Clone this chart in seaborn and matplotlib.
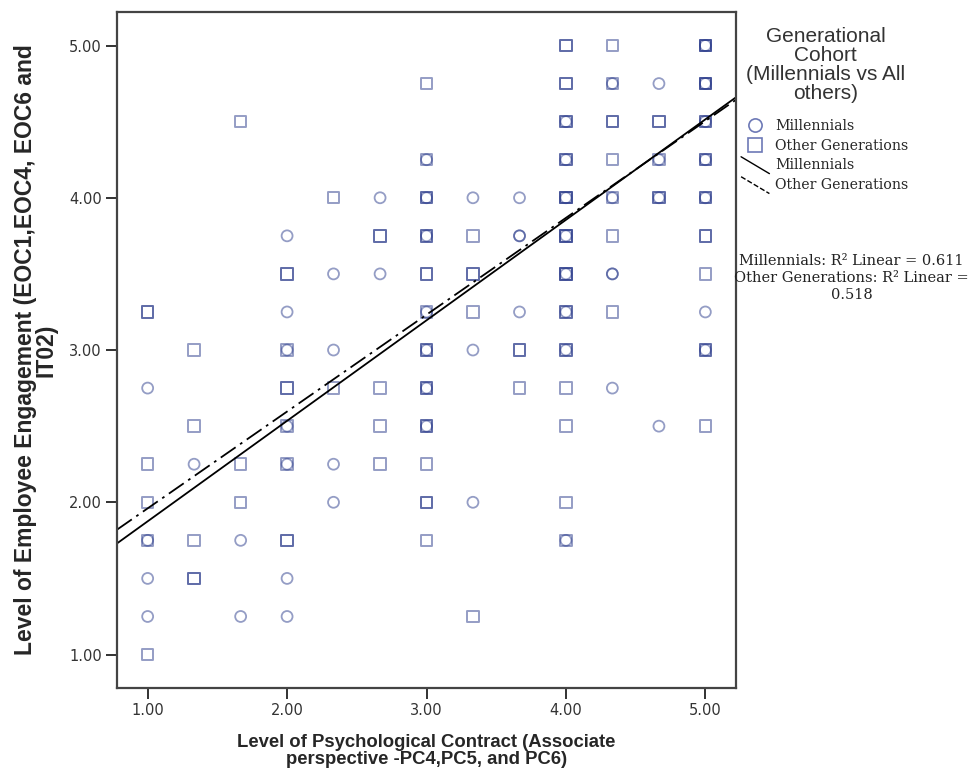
import numpy as np
import pandas as pd
import matplotlib
matplotlib.use("Agg")
import matplotlib.pyplot as plt
from matplotlib.lines import Line2D
from matplotlib.legend_handler import HandlerLine2D
import seaborn as sns

# grid cells (x, y) and how many cases of each cohort sit there
cell_x = [1.0] * 8 + [1.333] * 5 + [1.667] * 5 + [2.0] * 10 + [2.333] * 6 + [2.667] * 6 \
    + [3.0] * 12 + [3.333] * 7 + [3.667] * 5 + [4.0] * 13 + [4.333] * 9 + [4.667] * 5 + [5.0] * 10
cell_y = [3.25, 2.75, 2.25, 2.0, 1.75, 1.5, 1.25, 1.0,
          3.0, 2.5, 2.25, 1.75, 1.5,
          4.5, 2.25, 2.0, 1.75, 1.25,
          3.75, 3.5, 3.25, 3.0, 2.75, 2.5, 2.25, 1.75, 1.5, 1.25,
          4.0, 3.5, 3.0, 2.75, 2.25, 2.0,
          4.0, 3.75, 3.5, 2.75, 2.5, 2.25,
          4.75, 4.25, 4.0, 3.75, 3.5, 3.25, 3.0, 2.75, 2.5, 2.25, 2.0, 1.75,
          4.0, 3.75, 3.5, 3.25, 3.0, 2.0, 1.25,
          4.0, 3.75, 3.25, 3.0, 2.75,
          5.0, 4.75, 4.5, 4.25, 4.0, 3.75, 3.5, 3.25, 3.0, 2.75, 2.5, 2.0, 1.75,
          5.0, 4.75, 4.5, 4.25, 4.0, 3.75, 3.5, 3.25, 2.75,
          4.75, 4.5, 4.25, 4.0, 2.5,
          5.0, 4.75, 4.5, 4.25, 4.0, 3.75, 3.5, 3.25, 3.0, 2.5]
n_other = [2, 0, 1, 1, 1, 0, 0, 1,
           1, 1, 0, 1, 2,
           1, 1, 1, 0, 0,
           0, 2, 0, 1, 2, 1, 1, 2, 0, 0,
           1, 0, 0, 1, 0, 0,
           0, 2, 0, 1, 1, 1,
           1, 1, 2, 2, 2, 1, 2, 2, 2, 1, 2, 1,
           0, 1, 2, 1, 0, 0, 1,
           0, 0, 0, 2, 1,
           2, 2, 2, 2, 3, 3, 3, 2, 2, 1, 1, 1, 1,
           1, 1, 2, 1, 1, 1, 0, 1, 0,
           0, 2, 1, 2, 0,
           3, 3, 2, 2, 2, 2, 1, 0, 2, 1]
n_mill = [0, 1, 0, 0, 1, 1, 1, 0,
          0, 0, 1, 0, 0,
          0, 0, 0, 1, 1,
          1, 0, 1, 1, 0, 1, 1, 0, 1, 1,
          0, 1, 1, 0, 1, 1,
          1, 0, 1, 0, 0, 0,
          0, 1, 1, 1, 0, 1, 1, 1, 1, 0, 0, 0,
          1, 0, 0, 0, 1, 1, 0,
          1, 2, 1, 0, 0,
          0, 0, 1, 1, 1, 1, 1, 1, 1, 0, 0, 0, 1,
          0, 1, 0, 0, 1, 0, 2, 0, 1,
          1, 0, 1, 1, 1,
          1, 1, 1, 1, 1, 0, 0, 1, 1, 0]

# linear fit lines as reported in the chart
fit_cohort = ["Millennials", "Other Generations"]
fit_intercept = [1.215, 1.324]
fit_slope = [0.660, 0.636]
fit_r2 = [0.611, 0.518]

x_range = [0.78, 5.22]
y_range = [0.78, 5.22]
ticks = [1.0, 2.0, 3.0, 4.0, 5.0]

mill = pd.DataFrame({"x": np.repeat(cell_x, n_mill), "y": np.repeat(cell_y, n_mill)})
other = pd.DataFrame({"x": np.repeat(cell_x, n_other), "y": np.repeat(cell_y, n_other)})

sns.set_style("white")
plt.rcParams["font.family"] = ["Liberation Sans", "DejaVu Sans"]

fig = plt.figure(figsize=(9.7, 7.8), dpi=100)
ax = fig.add_axes([0.1206, 0.1179, 0.6382, 0.8667])

mark_col = "#2b3c8c"
sns.scatterplot(data=other, x="x", y="y", marker="s", s=68, facecolors="none",
                edgecolor=mark_col, linewidth=1.4, alpha=0.5, ax=ax)
sns.scatterplot(data=mill, x="x", y="y", marker="o", s=62, facecolors="none",
                edgecolor=mark_col, linewidth=1.3, alpha=0.5, ax=ax)

styles = ["-", (0, (10, 3, 1.5, 3))]
for i, name in enumerate(fit_cohort):
    xs = np.array(x_range)
    ys = fit_intercept[i] + fit_slope[i] * xs
    sns.lineplot(x=xs, y=ys, color="black", linewidth=1.3, linestyle=styles[i], ax=ax)

ax.set_xlim(x_range)
ax.set_ylim(y_range)
ax.set_xticks(ticks)
ax.set_yticks(ticks)
ax.set_xticklabels([f"{t:.2f}" for t in ticks])
ax.set_yticklabels([f"{t:.2f}" for t in ticks])
ax.tick_params(axis="both", direction="out", length=8, width=1.3, color="#222222",
               labelsize=10.5, labelcolor="#333333", left=True, bottom=True, pad=3)
for lab in ax.get_xticklabels() + ax.get_yticklabels():
    lab.set_family("DejaVu Sans")
for sp in ax.spines.values():
    sp.set_color("#444444")
    sp.set_linewidth(1.6)

ax.set_xlabel("Level of Psychological Contract (Associate\nperspective -PC4,PC5, and PC6)",
              fontsize=13.3, fontweight="bold", labelpad=11, linespacing=1.0)
ax.set_ylabel("Level of Employee Engagement (EOC1,EOC4, EOC6 and\nIT02)",
              fontsize=16.5, fontweight="bold", labelpad=8, linespacing=0.85)


class DiagLine(HandlerLine2D):
    def create_artists(self, legend, orig_handle, xdescent, ydescent, width, height,
                       fontsize, trans):
        line = Line2D([-xdescent, -xdescent + width], [height + 2, -3],
                      color=orig_handle.get_color(), linestyle=orig_handle.get_linestyle(),
                      linewidth=1.0, transform=trans)
        return [line]


handles = [
    Line2D([], [], linestyle="none", marker="o", markersize=9.5, markerfacecolor="none",
           markeredgecolor="#6d79b6", markeredgewidth=1.2),
    Line2D([], [], linestyle="none", marker="s", markersize=9.5, markerfacecolor="none",
           markeredgecolor="#6d79b6", markeredgewidth=1.2),
    Line2D([], [], color="black", linestyle="-"),
    Line2D([], [], color="black", linestyle=(0, (6, 2, 1, 2))),
]
labels = ["Millennials", "Other Generations", "Millennials", "Other Generations"]
fig.legend(handles, labels, loc="upper left", bbox_to_anchor=(0.764, 0.848),
           frameon=False, handlelength=2.0, handletextpad=0.4, labelspacing=0.42,
           borderpad=0, borderaxespad=0,
           prop={"family": "DejaVu Serif", "size": 10.2},
           handler_map={handles[2]: DiagLine(), handles[3]: DiagLine()})

fig.text(0.851, 0.9167, "Generational\nCohort\n(Millennials vs All\nothers)",
         ha="center", va="center", fontsize=15, linespacing=0.98, color="#333333")

fig.text(0.878, 0.6436,
         f"{fit_cohort[0]}: R² Linear = {fit_r2[0]:.3f}\n"
         f"{fit_cohort[1]}: R² Linear =\n{fit_r2[1]:.3f}",
         ha="center", va="center", fontsize=10.5, family="DejaVu Serif",
         linespacing=1.3, color="#222222")

fig.savefig("out.png", dpi=100)
